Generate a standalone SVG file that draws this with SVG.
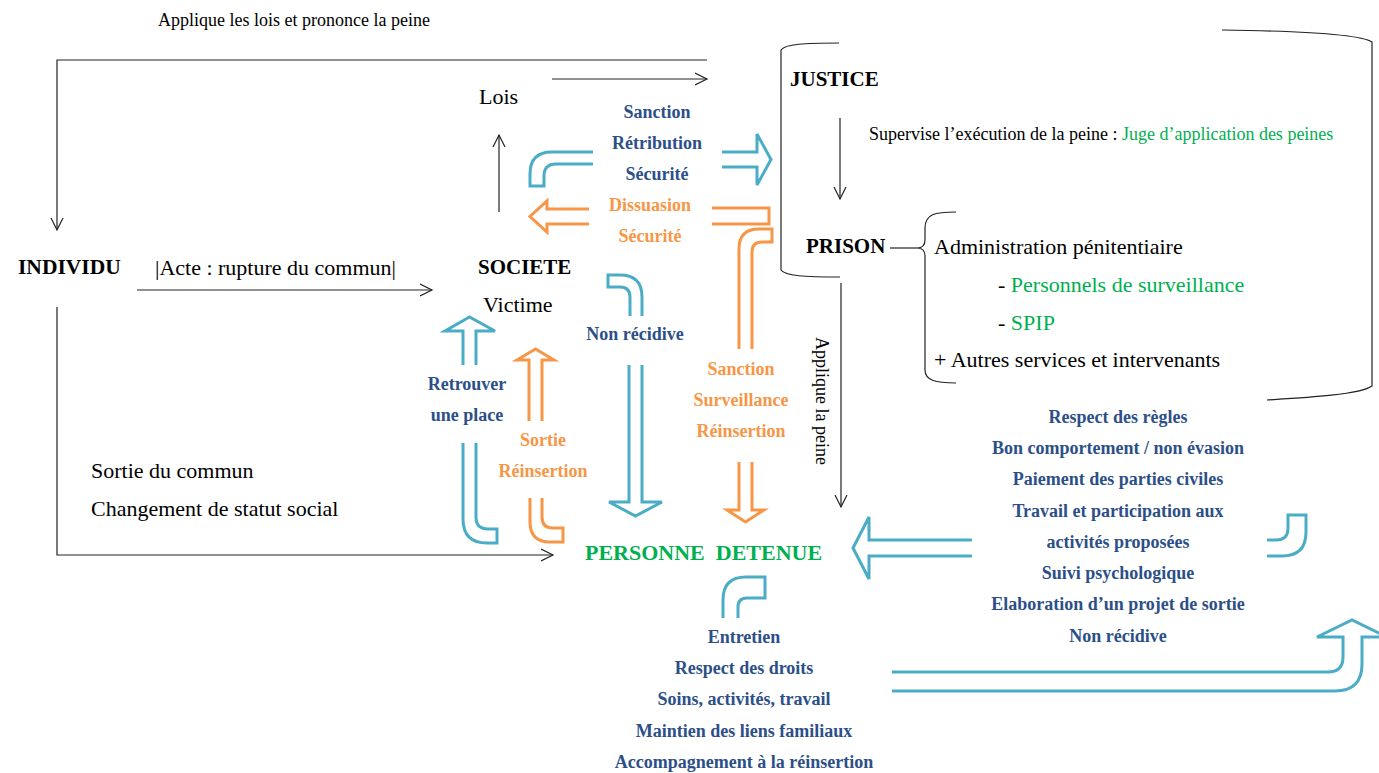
<svg xmlns="http://www.w3.org/2000/svg" width="1379" height="773" viewBox="0 0 1379 773">
<style>
  .t{font-family:"Liberation Serif","Times New Roman",serif;fill:#000}
  .r16{font-size:18px}
  .r20{font-size:22px}
  .h{font-size:21px;font-weight:bold}
  .lb{font-family:"Liberation Serif","Times New Roman",serif;font-size:18px;font-weight:bold;text-anchor:middle}
  .blue{fill:#2c4f88}
  .org{fill:#f79646}
  .grn{fill:#00b050}
  .ln{fill:none;stroke:#222;stroke-width:1.2}
  .ba{fill:none;stroke:#4bacc6;stroke-width:3;stroke-linejoin:miter}
  .oa{fill:none;stroke:#f79646;stroke-width:3;stroke-linejoin:miter}
</style>
<defs>
  <marker id="ah" markerUnits="userSpaceOnUse" markerWidth="14" markerHeight="14" refX="12" refY="7" orient="auto" viewBox="0 0 14 14">
    <path d="M0,1 L12,7 L0,13" fill="none" stroke="#222" stroke-width="1.2"/>
  </marker>
</defs>
<rect width="1379" height="773" fill="#fff"/>

<g id="connectors">
  <path class="ln" d="M707,60 H57 V230" marker-end="url(#ah)"/>
  <path class="ln" d="M552,79 H707" marker-end="url(#ah)"/>
  <path class="ln" d="M499,212 V135" marker-end="url(#ah)"/>
  <path class="ln" d="M137,290 H432" marker-end="url(#ah)"/>
  <path class="ln" d="M57,307 V555 H553" marker-end="url(#ah)"/>
  <path class="ln" d="M840,118 V199" marker-end="url(#ah)"/>
  <path class="ln" d="M841,283 V507" marker-end="url(#ah)"/>
  <!-- brackets -->
  <path class="ln" d="M839,43 C805,43 785,44 781,50 V270 C785,276 805,277 840,277"/>
  <path class="ln" d="M1222,30 C1300,31 1360,34 1372,42 V386 C1360,395 1300,398 1267,400"/>
  <path class="ln" d="M956,212 C935,212 925,214 925,228 V240 C925,246 921,248 917,248 C921,248 925,250 925,256 V370 C925,380 935,383 956,383"/>
  <path class="ln" d="M890,248 H917"/>
  <!-- block arrows -->
  <path class="ba" d="M593,152 H552 Q530,152 530,174 V186 H544 V176 Q544,164 556,164 H593"/>
  <path class="ba" d="M722,152 H757 V134 L771,159.5 L757,185 V167 H722"/>
  <path class="oa" d="M589,209 H547 V201 L530,216.5 L547,232 V224 H589"/>
  <path class="oa" d="M712,208 H769 V224 H712"/>
  <path class="oa" d="M739,349 V249 Q739,229 759,229 H772 V242 H762 Q752,242 752,252 V349"/>
  <path class="oa" d="M739,462 V510 H727 L745.5,522 L764,510 H752 V462"/>
  <path class="ba" d="M642,316 V297 Q642,275 620,275 H608 V287 H620 Q630,287 630,297 V316"/>
  <path class="ba" d="M629,365 V502 H609 L635.5,516 L662,502 H642 V365"/>
  <path class="ba" d="M463,365 V331 H445 L469.5,317 L495,331 H476 V365"/>
  <path class="ba" d="M463,443 V519 Q463,543 487,543 H497 V529 H488 Q476,529 476,517 V443"/>
  <path class="oa" d="M529,421 V360 H517 L535.5,349 L554,360 H542 V421"/>
  <path class="oa" d="M530,498 V522 Q530,542 550,542 H563 V528 H553 Q542,528 542,517 V498"/>
  <path class="ba" d="M972,540 H869 V517 L853,548 L869,579 V556 H972"/>
  <path class="ba" d="M1267,540 H1276 Q1288,540 1288,528 V515 H1306 V532 Q1306,556 1282,556 H1267"/>
  <path class="ba" d="M892,672 H1328 Q1343,672 1343,657 V637 H1317 L1352,620 L1387,637 H1362 V664 Q1362,691 1335,691 H892"/>
  <path class="ba" d="M723,618 V600 Q723,577 746,577 H765 V598 H747 Q738,598 738,607 V618"/>
</g>

<g id="top-label"><text class="t r16" x="158" y="26">Applique les lois et prononce la peine</text></g>
<g id="lois"><text class="t r20" x="479" y="104">Lois</text></g>
<g id="justice"><text class="t h" x="790" y="86">JUSTICE</text></g>
<g id="supervise"><text class="t r16" x="869" y="140">Supervise l’exécution de la peine : <tspan class="grn">Juge d’application des peines</tspan></text></g>
<g id="prison">
  <text class="t h" x="806" y="253">PRISON</text>
  <text class="t r20" x="934" y="254">Administration pénitentiaire</text>
  <text class="t r20" x="998" y="292">- <tspan class="grn">Personnels de surveillance</tspan></text>
  <text class="t r20" x="998" y="330">- <tspan class="grn">SPIP</tspan></text>
  <text class="t r20" x="934" y="367">+ Autres services et intervenants</text>
</g>
<g id="individu"><text class="t h" x="18" y="274" style="font-size:21.5px">INDIVIDU</text></g>
<g id="acte"><text class="t r20" x="155" y="275">|Acte : rupture du commun|</text></g>
<g id="societe">
  <text class="t h" x="478" y="274">SOCIETE</text>
  <text class="t r20" x="483" y="312">Victime</text>
</g>
<g id="sortie-commun">
  <text class="t r20" x="91" y="478">Sortie du commun</text>
  <text class="t r20" x="91" y="516">Changement de statut social</text>
</g>
<g id="personne"><text class="t h grn" x="585" y="560" style="font-size:22px" xml:space="preserve">PERSONNE  DETENUE</text></g>
<g id="applique-peine"><text class="t r16" transform="translate(816,401) rotate(90)" text-anchor="middle">Applique la peine</text></g>

<g id="labels-sanction">
  <text class="lb blue" x="657" y="118">Sanction</text>
  <text class="lb blue" x="657" y="149">Rétribution</text>
  <text class="lb blue" x="657" y="180">Sécurité</text>
  <text class="lb org" x="650" y="211">Dissuasion</text>
  <text class="lb org" x="650" y="242">Sécurité</text>
</g>
<g id="label-nonrecidive"><text class="lb blue" x="635" y="340">Non récidive</text></g>
<g id="label-retrouver">
  <text class="lb blue" x="467" y="390">Retrouver</text>
  <text class="lb blue" x="467" y="421">une place</text>
</g>
<g id="label-sortie">
  <text class="lb org" x="543" y="446">Sortie</text>
  <text class="lb org" x="543" y="477">Réinsertion</text>
</g>
<g id="label-surveillance">
  <text class="lb org" x="741" y="375">Sanction</text>
  <text class="lb org" x="741" y="406">Surveillance</text>
  <text class="lb org" x="741" y="437">Réinsertion</text>
</g>
<g id="list-right">
  <text class="lb blue" x="1118" y="423">Respect des règles</text>
  <text class="lb blue" x="1118" y="454">Bon comportement / non évasion</text>
  <text class="lb blue" x="1118" y="485">Paiement des parties civiles</text>
  <text class="lb blue" x="1118" y="517">Travail et participation aux</text>
  <text class="lb blue" x="1118" y="548">activités proposées</text>
  <text class="lb blue" x="1118" y="579">Suivi psychologique</text>
  <text class="lb blue" x="1118" y="610">Elaboration d’un projet de sortie</text>
  <text class="lb blue" x="1118" y="642">Non récidive</text>
</g>
<g id="list-bottom">
  <text class="lb blue" x="744" y="643">Entretien</text>
  <text class="lb blue" x="744" y="674">Respect des droits</text>
  <text class="lb blue" x="744" y="705">Soins, activités, travail</text>
  <text class="lb blue" x="744" y="737">Maintien des liens familiaux</text>
  <text class="lb blue" x="744" y="768">Accompagnement à la réinsertion</text>
</g>
</svg>
